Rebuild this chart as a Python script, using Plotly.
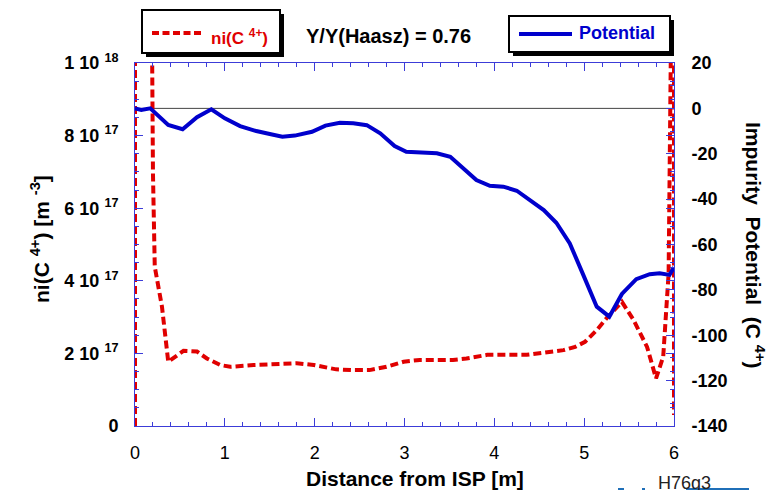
import numpy as np
import plotly.graph_objects as go

# ---- data -------------------------------------------------------------
# Impurity potential (C4+) along the divertor, right axis
dist_pot = [0.0, 0.07, 0.17, 0.37, 0.53, 0.69, 0.85, 1.00, 1.17, 1.35, 1.50,
            1.64, 1.78, 1.97, 2.12, 2.28, 2.43, 2.58, 2.73, 2.89, 3.02, 3.17,
            3.36, 3.51, 3.66, 3.80, 3.95, 4.10, 4.25, 4.40, 4.55, 4.69, 4.84,
            4.99, 5.14, 5.28, 5.42, 5.58, 5.73, 5.84, 5.95, 6.00]
potential = [0.0, -0.7, 0.0, -7.3, -9.2, -3.9, -0.4, -4.4, -7.8, -10.0, -11.3,
             -12.5, -12.0, -10.3, -7.6, -6.3, -6.6, -7.4, -11.0, -16.6, -19.1, -19.6,
             -19.8, -21.3, -26.4, -31.6, -34.1, -34.5, -36.3, -40.4, -44.8, -50.4, -59.5,
             -73.4, -87.4, -91.8, -81.8, -75.3, -73.1, -72.7, -73.4, -70.0]

# C4+ density, left axis, in units of 1e17 m^-3
dist_ni = [0.00, 0.00, 0.18, 0.20, 0.22, 0.30, 0.37, 0.54, 0.69, 0.80, 0.95,
           1.06, 1.32, 1.50, 1.80, 1.99, 2.24, 2.43, 2.61, 2.80, 2.99, 3.17,
           3.32, 3.54, 3.69, 3.92, 4.14, 4.36, 4.55, 4.77, 4.90, 5.01, 5.14,
           5.25, 5.42, 5.55, 5.70, 5.80, 5.88, 5.94, 5.98, 6.00, 6.00]
ni_1e17 = [0.0, 14.0, 14.0, 6.96, 4.39, 3.29, 1.77, 2.07, 2.05, 1.86, 1.68,
           1.63, 1.68, 1.70, 1.73, 1.68, 1.56, 1.54, 1.54, 1.63, 1.77, 1.82,
           1.82, 1.82, 1.86, 1.96, 1.96, 1.96, 2.02, 2.09, 2.18, 2.32, 2.64,
           2.97, 3.42, 2.92, 2.18, 1.31, 1.91, 4.20, 14.0, 14.0, 0.3]
ni = [v * 1e17 for v in ni_1e17]

ni_tickvals = [0, 2e17, 4e17, 6e17, 8e17, 1e18]
ni_ticktext = ["<b>0</b>", "<b>2 10 <sup>17</sup></b>", "<b>4 10 <sup>17</sup></b>",
               "<b>6 10 <sup>17</sup></b>", "<b>8 10 <sup>17</sup></b>",
               "<b>1 10 <sup>18</sup></b>"]
pot_tickvals = [-140, -120, -100, -80, -60, -40, -20, 0, 20]
pot_ticktext = [str(v) for v in pot_tickvals]
x_tickvals = [0, 1, 2, 3, 4, 5, 6]

yield_ratio = "Y/Y(Haasz) = 0.76"

# ---- styling ----------------------------------------------------------
W, H = 781, 490
L, R, T, B = 135, 674, 63, 426          # plot area in pixels
FONT = "Liberation Sans"
RED = "#e00000"
BLUE = "#0000cc"
FRAME = "#3c3cd8"


def px(xp):
    return (xp - L) / (R - L)


def py(yp):
    return (B - yp) / (B - T)


fig = go.Figure()

fig.add_trace(go.Scatter(
    x=dist_ni, y=ni, mode="lines", name="ni(C4+)",
    line=dict(color=RED, width=4, dash="8px,4px"),
    yaxis="y", showlegend=False))

fig.add_trace(go.Scatter(
    x=dist_pot, y=potential, mode="lines", name="Potential",
    line=dict(color=BLUE, width=4),
    yaxis="y2", showlegend=False))

axis_common = dict(showline=True, linecolor=FRAME, linewidth=1,
                   ticks="inside", tickcolor=FRAME, tickwidth=1, ticklen=8,
                   showgrid=False, zeroline=False)

fig.update_layout(
    width=W, height=H,
    margin=dict(l=L, r=W - R, t=T, b=H - B, autoexpand=False),
    paper_bgcolor="white", plot_bgcolor="white",
    font=dict(family=FONT, color="black"),
    xaxis=dict(range=[0, 6], tickvals=x_tickvals, mirror="ticks",
               tickfont=dict(size=18, family=FONT, color="black"),
               ticklabelstandoff=10,
               minor=dict(tickvals=list(np.round(np.arange(0, 6.01, 0.2), 2)),
                          ticklen=4, tickcolor=FRAME, ticks="inside"),
               **axis_common),
    yaxis=dict(range=[0, 1e18], tickvals=ni_tickvals, ticktext=ni_ticktext,
               mirror="ticks",
               tickfont=dict(size=18, family=FONT, color="black"),
               ticklabelstandoff=12,
               minor=dict(tickvals=list(np.arange(0, 1.0001e18, 5e16)),
                          ticklen=4, tickcolor=FRAME, ticks="inside"),
               **axis_common),
    yaxis2=dict(range=[-140, 20], overlaying="y", side="right",
                tickvals=pot_tickvals, ticktext=pot_ticktext,
                tickfont=dict(size=18, family=FONT, color="black", weight="bold"),
                ticklabelstandoff=13,
                minor=dict(tickvals=list(range(-140, 21, 10)),
                           ticklen=4, tickcolor=FRAME, ticks="inside"),
                **axis_common),
)

shapes = []
# zero-potential reference line
shapes.append(dict(type="line", xref="x", yref="y2", x0=0, x1=6, y0=0, y1=0,
                   line=dict(color="#444444", width=1), layer="below"))


def boxed_key(x0, y0, x1, y1):
    # drop shadow then white frame
    shapes.append(dict(type="rect", xref="paper", yref="paper",
                       x0=px(x0 + 4), x1=px(x1 + 4), y0=py(y0 + 4), y1=py(y1 + 4),
                       fillcolor="black", line=dict(width=0)))
    shapes.append(dict(type="rect", xref="paper", yref="paper",
                       x0=px(x0), x1=px(x1), y0=py(y0), y1=py(y1),
                       fillcolor="white", line=dict(color="black", width=2)))


boxed_key(142, 10, 280, 53)
shapes.append(dict(type="line", xref="paper", yref="paper",
                   x0=px(152), x1=px(204), y0=py(33), y1=py(33),
                   line=dict(color=RED, width=4, dash="7px,3.5px")))
boxed_key(509, 16, 670, 52)
shapes.append(dict(type="line", xref="paper", yref="paper",
                   x0=px(519), x1=px(572), y0=py(34), y1=py(34),
                   line=dict(color=BLUE, width=4)))

# small marks at the lower right corner
for a, b in [(618, 624), (642, 645)]:
    shapes.append(dict(type="line", xref="paper", yref="paper",
                       x0=px(a), x1=px(b), y0=py(489), y1=py(489),
                       line=dict(color="#1f6fb8", width=2)))
shapes.append(dict(type="line", xref="paper", yref="paper",
                   x0=px(686), x1=px(749), y0=py(489), y1=py(489),
                   line=dict(color="#1f6fb8", width=2)))
fig.update_layout(shapes=shapes)

ann = []


def text(xp, yp, s, size, color="black", angle=0, bold=True, xanchor="center"):
    ann.append(dict(x=px(xp), y=py(yp), xref="paper", yref="paper", text=s,
                    showarrow=False, textangle=angle, xanchor=xanchor, yanchor="middle",
                    font=dict(family=FONT, size=size, color=color,
                              weight="bold" if bold else "normal")))


text(209, 37, "ni(C <sup>4+</sup>)", 17, color=RED, xanchor="left")
text(577, 33, "Potential", 18, color=BLUE, xanchor="left")
text(388, 36, yield_ratio, 20)
text(415, 478, "Distance from ISP [m]", 21)
text(40, 239, "ni(C <sup>4+</sup>) [m <sup>-3</sup>]", 21, angle=-90)
text(755, 245, "Impurity\u00a0\u00a0Potential\u00a0\u00a0(C <sup>4+</sup>)", 21, angle=90)
text(656, 483, "H76g3", 18, color="#222222", bold=False, xanchor="left")
fig.update_layout(annotations=ann)

fig.write_html("out.html")
